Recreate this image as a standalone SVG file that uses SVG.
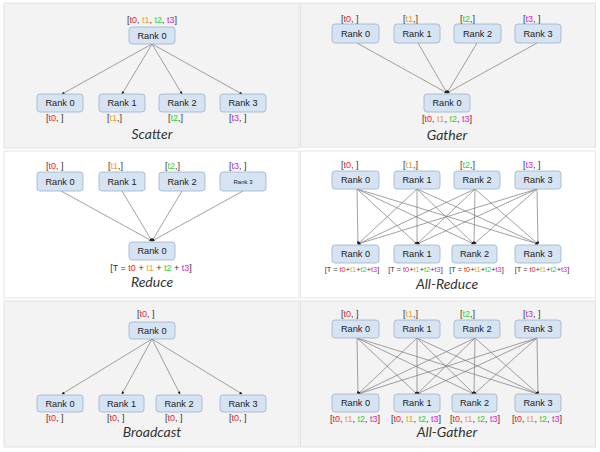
<svg xmlns="http://www.w3.org/2000/svg" width="600" height="452" viewBox="0 0 600 452">
<defs>
<style>
.panel{fill:#f3f3f3;stroke:#e2e2e2;stroke-width:1}
.wpanel{fill:#ffffff;stroke:#e6e6e6;stroke-width:1}
.box{fill:#d5e3f2;stroke:#9db3cb;stroke-width:0.8}
.bt{font-family:"Liberation Sans",Arial,sans-serif;font-size:9.2px;fill:#222;text-anchor:middle}
.lb{font-family:"Liberation Sans",Arial,sans-serif;font-size:9px;fill:#333}
.lbs{font-family:"Liberation Sans",Arial,sans-serif;font-size:7.4px;fill:#333;text-anchor:middle}
.c{text-anchor:middle}
.title{font-family:Lato,"Open Sans",sans-serif;font-style:italic;font-size:14px;fill:#333;text-anchor:middle}
.r{fill:#ee1c1c}.o{fill:#f0a02a}.g{fill:#2fd12f}.m{fill:#d622d6}
.ln{stroke:#7a7a7a;stroke-width:0.7;fill:none;marker-end:url(#ah)}
</style>
<marker id="ah" viewBox="0 0 6 6" refX="5" refY="3" markerWidth="3" markerHeight="3" orient="auto" markerUnits="userSpaceOnUse"><path d="M0,0 L6,3 L0,6 z" fill="#222"/></marker>
</defs>

<g id="panels">
<rect class="panel" x="4" y="3" width="295" height="145"/>
<rect class="panel" x="300.5" y="3" width="295" height="144"/>
<rect class="wpanel" x="4" y="151" width="295" height="147"/>
<rect class="wpanel" x="300.5" y="151" width="295" height="147"/>
<rect class="panel" x="4" y="301" width="295" height="146"/>
<rect class="panel" x="300.5" y="301" width="295" height="146"/>
</g>

<g id="connectors">
<!-- Scatter -->
<path class="ln" d="M152,44 L62,94"/>
<path class="ln" d="M152,44 L122,94"/>
<path class="ln" d="M152,44 L182,94"/>
<path class="ln" d="M152,44 L242,94"/>
<!-- Gather -->
<path class="ln" d="M357,43 L447,93"/>
<path class="ln" d="M418,43 L447,93"/>
<path class="ln" d="M477,43 L447,93"/>
<path class="ln" d="M537,43 L447,93"/>
<!-- Reduce -->
<path class="ln" d="M61,191 L152,241"/>
<path class="ln" d="M122,191 L152,241"/>
<path class="ln" d="M182,191 L152,241"/>
<path class="ln" d="M243,191 L152,241"/>
<!-- All-Reduce -->
<path class="ln" d="M357,189 L358,244"/><path class="ln" d="M357,189 L417,244"/><path class="ln" d="M357,189 L474,244"/><path class="ln" d="M357,189 L538,244"/>
<path class="ln" d="M417,189 L358,244"/><path class="ln" d="M417,189 L417,244"/><path class="ln" d="M417,189 L474,244"/><path class="ln" d="M417,189 L538,244"/>
<path class="ln" d="M475,189 L358,244"/><path class="ln" d="M475,189 L417,244"/><path class="ln" d="M475,189 L474,244"/><path class="ln" d="M475,189 L538,244"/>
<path class="ln" d="M537,189 L358,244"/><path class="ln" d="M537,189 L417,244"/><path class="ln" d="M537,189 L474,244"/><path class="ln" d="M537,189 L538,244"/>
<!-- Broadcast -->
<path class="ln" d="M152,339 L62,394"/>
<path class="ln" d="M152,339 L122,394"/>
<path class="ln" d="M152,339 L180,394"/>
<path class="ln" d="M152,339 L242,394"/>
<!-- All-Gather -->
<path class="ln" d="M357,338 L358,394"/><path class="ln" d="M357,338 L417,394"/><path class="ln" d="M357,338 L474,394"/><path class="ln" d="M357,338 L538,394"/>
<path class="ln" d="M417,338 L358,394"/><path class="ln" d="M417,338 L417,394"/><path class="ln" d="M417,338 L474,394"/><path class="ln" d="M417,338 L538,394"/>
<path class="ln" d="M475,338 L358,394"/><path class="ln" d="M475,338 L417,394"/><path class="ln" d="M475,338 L474,394"/><path class="ln" d="M475,338 L538,394"/>
<path class="ln" d="M537,338 L358,394"/><path class="ln" d="M537,338 L417,394"/><path class="ln" d="M537,338 L474,394"/><path class="ln" d="M537,338 L538,394"/>
</g>

<!-- ===== Scatter ===== -->
<g id="scatter">
<text class="lb c" x="152" y="23">[<tspan class="r">t0</tspan>, <tspan class="o">t1</tspan>, <tspan class="g">t2</tspan>, <tspan class="m">t3</tspan>]</text>
<g id="sc-top"><rect class="box" x="129" y="27" width="46" height="17" rx="3"/><text class="bt" x="152" y="38.5">Rank 0</text></g>
<g id="sc-r0"><rect class="box" x="37" y="94" width="46" height="18" rx="3"/><text class="bt" x="60" y="106">Rank 0</text></g>
<g id="sc-r1"><rect class="box" x="99" y="94" width="46" height="18" rx="3"/><text class="bt" x="122" y="106">Rank 1</text></g>
<g id="sc-r2"><rect class="box" x="159" y="94" width="46" height="18" rx="3"/><text class="bt" x="182" y="106">Rank 2</text></g>
<g id="sc-r3"><rect class="box" x="220" y="94" width="46" height="18" rx="3"/><text class="bt" x="243" y="106">Rank 3</text></g>
<text class="lb" x="46" y="121">[<tspan class="r">t0</tspan>, ]</text>
<text class="lb" x="107" y="121">[<tspan class="o">t1</tspan>,]</text>
<text class="lb" x="168" y="121">[<tspan class="g">t2</tspan>,]</text>
<text class="lb" x="229" y="121">[<tspan class="m">t3</tspan>, ]</text>
<text class="title" x="152" y="139">Scatter</text>
</g>

<!-- ===== Gather ===== -->
<g id="gather">
<text class="lb" x="341" y="22">[<tspan class="r">t0</tspan>, ]</text>
<text class="lb" x="403" y="22">[<tspan class="o">t1</tspan>,]</text>
<text class="lb" x="460" y="22">[<tspan class="g">t2</tspan>,]</text>
<text class="lb" x="523" y="22">[<tspan class="m">t3</tspan>, ]</text>
<g id="ga-r0"><rect class="box" x="332" y="24" width="47" height="19" rx="3"/><text class="bt" x="355.5" y="36.5">Rank 0</text></g>
<g id="ga-r1"><rect class="box" x="394" y="24" width="46" height="19" rx="3"/><text class="bt" x="417" y="36.5">Rank 1</text></g>
<g id="ga-r2"><rect class="box" x="454" y="24" width="47" height="19" rx="3"/><text class="bt" x="477.5" y="36.5">Rank 2</text></g>
<g id="ga-r3"><rect class="box" x="515" y="24" width="46" height="19" rx="3"/><text class="bt" x="538" y="36.5">Rank 3</text></g>
<g id="ga-bot"><rect class="box" x="424" y="94" width="46" height="18" rx="3"/><text class="bt" x="447" y="106">Rank 0</text></g>
<text class="lb c" x="447" y="122">[<tspan class="r">t0</tspan>, <tspan class="o">t1</tspan>, <tspan class="g">t2</tspan>, <tspan class="m">t3</tspan>]</text>
<text class="title" x="447" y="140">Gather</text>
</g>

<!-- ===== Reduce ===== -->
<g id="reduce">
<text class="lb" x="46" y="169">[<tspan class="r">t0</tspan>, ]</text>
<text class="lb" x="108" y="169">[<tspan class="o">t1</tspan>,]</text>
<text class="lb" x="165" y="169">[<tspan class="g">t2</tspan>,]</text>
<text class="lb" x="229" y="169">[<tspan class="m">t3</tspan>, ]</text>
<g id="re-r0"><rect class="box" x="37" y="172" width="46" height="19" rx="3"/><text class="bt" x="60" y="184.5">Rank 0</text></g>
<g id="re-r1"><rect class="box" x="99" y="172" width="46" height="19" rx="3"/><text class="bt" x="122" y="184.5">Rank 1</text></g>
<g id="re-r2"><rect class="box" x="159" y="172" width="46" height="19" rx="3"/><text class="bt" x="182" y="184.5">Rank 2</text></g>
<g id="re-r3"><rect class="box" x="220" y="172" width="46" height="19" rx="3"/><text class="bt" x="243" y="184" style="font-size:6px">Rank 3</text></g>
<g id="re-bot"><rect class="box" x="129" y="242" width="46" height="18" rx="3"/><text class="bt" x="152" y="254">Rank 0</text></g>
<text class="lb c" x="151" y="271">[T = <tspan class="r">t0</tspan> + <tspan class="o">t1</tspan> + <tspan class="g">t2</tspan> + <tspan class="m">t3</tspan>]</text>
<text class="title" x="152" y="287">Reduce</text>
</g>

<!-- ===== All-Reduce ===== -->
<g id="allreduce">
<text class="lb" x="341" y="168">[<tspan class="r">t0</tspan>, ]</text>
<text class="lb" x="403" y="168">[<tspan class="o">t1</tspan>,]</text>
<text class="lb" x="460" y="168">[<tspan class="g">t2</tspan>,]</text>
<text class="lb" x="523" y="168">[<tspan class="m">t3</tspan>, ]</text>
<g id="ar-t0"><rect class="box" x="332" y="171" width="47" height="18" rx="3"/><text class="bt" x="355.5" y="183">Rank 0</text></g>
<g id="ar-t1"><rect class="box" x="394" y="171" width="46" height="18" rx="3"/><text class="bt" x="417" y="183">Rank 1</text></g>
<g id="ar-t2"><rect class="box" x="454" y="171" width="46" height="18" rx="3"/><text class="bt" x="477" y="183">Rank 2</text></g>
<g id="ar-t3"><rect class="box" x="515" y="171" width="46" height="18" rx="3"/><text class="bt" x="538" y="183">Rank 3</text></g>
<g id="ar-b0"><rect class="box" x="332" y="245" width="47" height="18" rx="3"/><text class="bt" x="355.5" y="257">Rank 0</text></g>
<g id="ar-b1"><rect class="box" x="394" y="245" width="46" height="18" rx="3"/><text class="bt" x="417" y="257">Rank 1</text></g>
<g id="ar-b2"><rect class="box" x="452" y="245" width="45" height="18" rx="3"/><text class="bt" x="474.5" y="257">Rank 2</text></g>
<g id="ar-b3"><rect class="box" x="515" y="245" width="46" height="18" rx="3"/><text class="bt" x="538" y="257">Rank 3</text></g>
<text class="lbs" x="352" y="272">[T = <tspan class="r">t0</tspan>+<tspan class="o">t1</tspan>+<tspan class="g">t2</tspan>+<tspan class="m">t3</tspan>]</text>
<text class="lbs" x="415.5" y="272">[T = <tspan class="r">t0</tspan>+<tspan class="o">t1</tspan>+<tspan class="g">t2</tspan>+<tspan class="m">t3</tspan>]</text>
<text class="lbs" x="476.5" y="272">[T = <tspan class="r">t0</tspan>+<tspan class="o">t1</tspan>+<tspan class="g">t2</tspan>+<tspan class="m">t3</tspan>]</text>
<text class="lbs" x="542" y="272">[T = <tspan class="r">t0</tspan>+<tspan class="o">t1</tspan>+<tspan class="g">t2</tspan>+<tspan class="m">t3</tspan>]</text>
<text class="title" x="447" y="289">All-Reduce</text>
</g>

<!-- ===== Broadcast ===== -->
<g id="broadcast">
<text class="lb" x="137" y="317">[<tspan class="r">t0</tspan>, ]</text>
<g id="bc-top"><rect class="box" x="129" y="322" width="46" height="17" rx="3"/><text class="bt" x="152" y="333.5">Rank 0</text></g>
<g id="bc-r0"><rect class="box" x="37" y="395" width="46" height="17" rx="3"/><text class="bt" x="60" y="406.5">Rank 0</text></g>
<g id="bc-r1"><rect class="box" x="99" y="395" width="45" height="17" rx="3"/><text class="bt" x="121.5" y="406.5">Rank 1</text></g>
<g id="bc-r2"><rect class="box" x="156" y="395" width="46" height="17" rx="3"/><text class="bt" x="179" y="406.5">Rank 2</text></g>
<g id="bc-r3"><rect class="box" x="220" y="395" width="46" height="17" rx="3"/><text class="bt" x="243" y="406.5">Rank 3</text></g>
<text class="lb" x="46" y="421">[<tspan class="r">t0</tspan>, ]</text>
<text class="lb" x="107" y="421">[<tspan class="r">t0</tspan>, ]</text>
<text class="lb" x="165" y="421">[<tspan class="r">t0</tspan>, ]</text>
<text class="lb" x="229" y="421">[<tspan class="r">t0</tspan>, ]</text>
<text class="title" x="152" y="437">Broadcast</text>
</g>

<!-- ===== All-Gather ===== -->
<g id="allgather">
<text class="lb" x="341" y="317">[<tspan class="r">t0</tspan>, ]</text>
<text class="lb" x="403" y="317">[<tspan class="o">t1</tspan>,]</text>
<text class="lb" x="460" y="317">[<tspan class="g">t2</tspan>,]</text>
<text class="lb" x="523" y="317">[<tspan class="m">t3</tspan>, ]</text>
<g id="ag-t0"><rect class="box" x="332" y="320" width="47" height="18" rx="3"/><text class="bt" x="355.5" y="332">Rank 0</text></g>
<g id="ag-t1"><rect class="box" x="394" y="320" width="46" height="18" rx="3"/><text class="bt" x="417" y="332">Rank 1</text></g>
<g id="ag-t2"><rect class="box" x="454" y="320" width="46" height="18" rx="3"/><text class="bt" x="477" y="332">Rank 2</text></g>
<g id="ag-t3"><rect class="box" x="515" y="320" width="46" height="18" rx="3"/><text class="bt" x="538" y="332">Rank 3</text></g>
<g id="ag-b0"><rect class="box" x="332" y="394" width="47" height="18" rx="3"/><text class="bt" x="355.5" y="406">Rank 0</text></g>
<g id="ag-b1"><rect class="box" x="394" y="394" width="46" height="18" rx="3"/><text class="bt" x="417" y="406">Rank 1</text></g>
<g id="ag-b2"><rect class="box" x="452" y="394" width="45" height="18" rx="3"/><text class="bt" x="474.5" y="406">Rank 2</text></g>
<g id="ag-b3"><rect class="box" x="515" y="394" width="46" height="18" rx="3"/><text class="bt" x="538" y="406">Rank 3</text></g>
<text class="lb c" x="355" y="422">[<tspan class="r">t0</tspan>, <tspan class="o">t1</tspan>, <tspan class="g">t2</tspan>, <tspan class="m">t3</tspan>]</text>
<text class="lb c" x="416" y="422">[<tspan class="r">t0</tspan>, <tspan class="o">t1</tspan>, <tspan class="g">t2</tspan>, <tspan class="m">t3</tspan>]</text>
<text class="lb c" x="475" y="422">[<tspan class="r">t0</tspan>, <tspan class="o">t1</tspan>, <tspan class="g">t2</tspan>, <tspan class="m">t3</tspan>]</text>
<text class="lb c" x="537" y="422">[<tspan class="r">t0</tspan>, <tspan class="o">t1</tspan>, <tspan class="g">t2</tspan>, <tspan class="m">t3</tspan>]</text>
<text class="title" x="447" y="437">All-Gather</text>
</g>
</svg>
